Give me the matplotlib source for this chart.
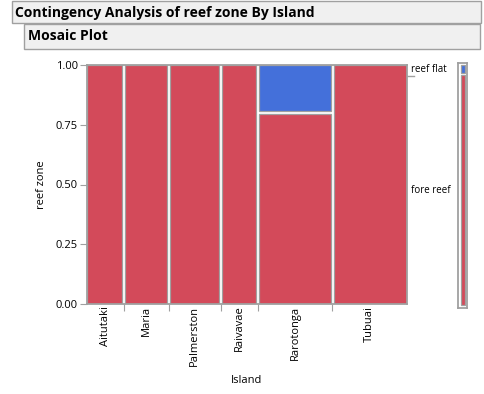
import matplotlib
matplotlib.use("Agg")
import matplotlib.pyplot as plt
from matplotlib.patches import Rectangle
from matplotlib.lines import Line2D

islands = ['Aitutaki', 'Maria', 'Palmerston', 'Raivavae', 'Rarotonga', 'Tubuai']
fore_reef = [5, 6, 7, 5, 8, 10]
reef_flat = [0, 0, 0, 0, 2, 0]
zones = ['fore reef', 'reef flat']
yticks = [0.0, 0.25, 0.5, 0.75, 1.0]
ytick_labels = ['0.00', '0.25', '0.50', '0.75', '1.00']

RED = '#D34A5A'
BLUE = '#4470DA'
EDGE = '#A0A0A0'
W, H = 484, 394

plt.rcParams['font.family'] = ['Open Sans', 'DejaVu Sans']

fig = plt.figure(figsize=(W / 100, H / 100), dpi=100)

def fx(px):
    return px / W

def fy(py):
    return (H - py) / H

# header boxes
fig.add_artist(Rectangle((fx(12), fy(23)), fx(481) - fx(12), fy(1) - fy(23),
                         transform=fig.transFigure, facecolor='#F0F0F0',
                         edgecolor=EDGE, linewidth=1))
fig.text(fx(15), fy(13), 'Contingency Analysis of reef zone By Island',
         fontsize=10, fontweight='bold', va='center', ha='left')
fig.add_artist(Rectangle((fx(24), fy(49)), fx(480) - fx(24), fy(24) - fy(49),
                         transform=fig.transFigure, facecolor='#F0F0F0',
                         edgecolor=EDGE, linewidth=1))
fig.text(fx(28.5), fy(36.5), 'Mosaic Plot',
         fontsize=10, fontweight='bold', va='center', ha='left')

# main axes
x0, x1 = 86.7, 406.7
y0, y1 = 64.7, 304.3
ax = fig.add_axes([fx(x0), fy(y1), fx(x1) - fx(x0), fy(y0) - fy(y1)])
ax.set_xlim(0, 1)
ax.set_ylim(0, 1)

totals = [a + b for a, b in zip(fore_reef, reef_flat)]
N = sum(totals)
gx = 3.0 / (x1 - x0)
gy = 3.0 / (y1 - y0)

left = 0.0
bounds = []
centers = []
for i, isl in enumerate(islands):
    w = totals[i] / N
    l_in = 0 if i == 0 else gx / 2
    r_in = 0 if i == len(islands) - 1 else gx / 2
    fr = fore_reef[i] / totals[i]
    segs = [(0.0, fr, RED), (fr, 1.0, BLUE)]
    for b, t, c in segs:
        if t - b <= 0:
            continue
        b_in = 0 if b == 0 else gy / 2
        t_in = 0 if t == 1 else gy / 2
        ax.bar(left + l_in, (t - t_in) - (b + b_in), width=w - l_in - r_in,
               bottom=b + b_in, align='edge', color=c, edgecolor=EDGE,
               linewidth=0.9, zorder=2)
    centers.append(left + w / 2)
    left += w
    bounds.append(left)

for s in ax.spines.values():
    s.set_color(EDGE)
    s.set_linewidth(1.3)
    s.set_zorder(3)

ax.set_yticks(yticks)
ax.set_yticklabels(ytick_labels, fontsize=8)
ax.set_xticks(bounds[:-1])
ax.set_xticklabels([])
ax.set_xticks(centers, minor=True)
ax.set_xticklabels(islands, minor=True, rotation=90, fontsize=8, va='top')
ax.tick_params(axis='x', which='minor', length=0, pad=1)
ax.tick_params(axis='x', which='major', length=5, color=EDGE)
ax.tick_params(axis='y', length=5, color=EDGE, pad=1.5)
ax.set_ylabel('reef zone', fontsize=8, labelpad=6)
ax.set_xlabel('Island', fontsize=8, labelpad=7)

# right-side labels for overall proportions
tot_fore = sum(fore_reef) / N
ax.text(1.0 + 4 / (x1 - x0), (tot_fore + 1) / 2 + 0.003, zones[1], fontsize=7,
        va='center', ha='left', transform=ax.transAxes)
ax.text(1.0 + 4 / (x1 - x0), tot_fore / 2, zones[0], fontsize=7,
        va='center', ha='left', transform=ax.transAxes)
ax.add_line(Line2D([1.0, 1.0 + 7 / (x1 - x0)], [tot_fore, tot_fore],
                   transform=ax.transAxes, color=EDGE, linewidth=1,
                   clip_on=False))

# right margin bar
bx0, bx1 = 458.3, 467.3
by0, by1 = 62.5, 307.5
ax2 = fig.add_axes([fx(bx0), fy(by1), fx(bx1) - fx(bx0), fy(by0) - fy(by1)])
ax2.set_xlim(0, 1)
ax2.set_ylim(0, 1)
g2x = 2.2 / (bx1 - bx0)
g2y = 2.6 / (by1 - by0)
ax2.bar(g2x, tot_fore - g2y / 2 - g2y, width=1 - 2 * g2x, bottom=g2y,
        align='edge', color=RED, edgecolor=EDGE, linewidth=0.9)
ax2.bar(g2x, 1 - tot_fore - g2y / 2 - g2y, width=1 - 2 * g2x,
        bottom=tot_fore + g2y / 2, align='edge', color=BLUE, edgecolor=EDGE,
        linewidth=0.9)
for s in ax2.spines.values():
    s.set_color(EDGE)
    s.set_linewidth(1.3)
ax2.set_xticks([])
ax2.set_yticks([])

fig.savefig('out.png', dpi=100)
